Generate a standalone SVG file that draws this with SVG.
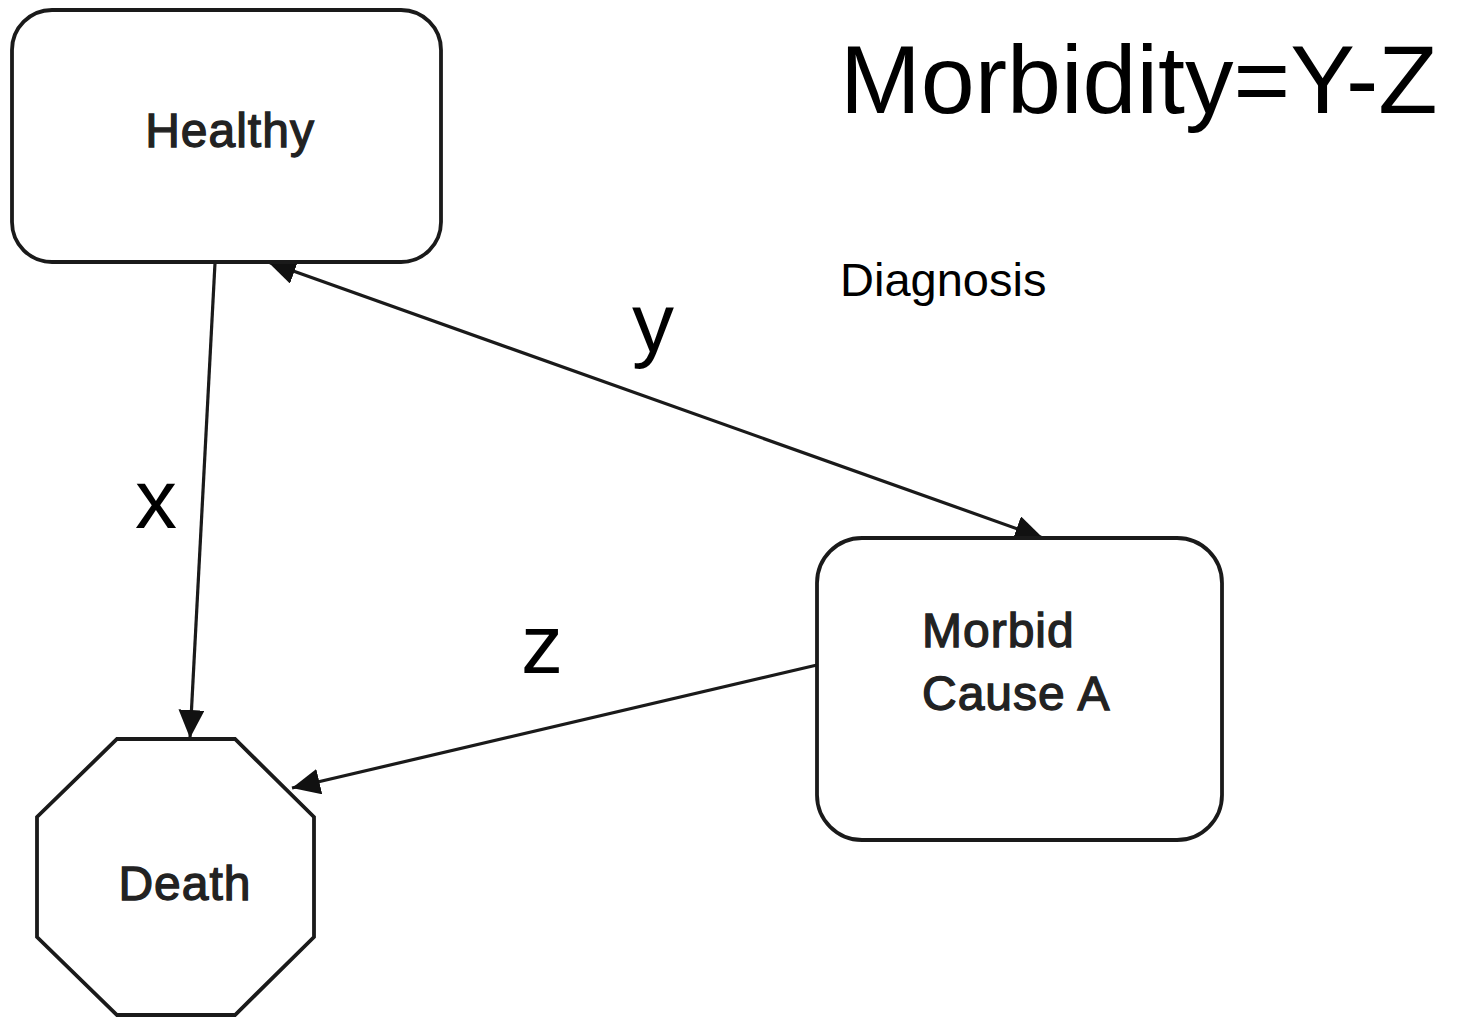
<svg xmlns="http://www.w3.org/2000/svg" width="1457" height="1019" viewBox="0 0 1457 1019">
<style>
.node{fill:#fff;stroke:#1a1a1a;stroke-width:3.8}
.ntext{font-family:"Liberation Sans",Arial,sans-serif;font-size:48px;font-weight:normal;fill:#222;stroke:#222;stroke-width:1.3;letter-spacing:1px}
.conn{stroke:#1a1a1a;stroke-width:3.2;fill:none}
.lbl{font-family:"Liberation Sans",Arial,sans-serif;fill:#000}
</style>
<defs>
<marker id="ah" markerUnits="userSpaceOnUse" markerWidth="30" markerHeight="28" refX="28" refY="13" orient="auto-start-reverse" viewBox="0 0 30 28">
<path d="M0,0 L28,13 L0,26 z" fill="#111"/>
</marker>
</defs>
<rect width="1457" height="1019" fill="#fff"/>
<g id="connectors">
<line class="conn" x1="215" y1="263" x2="190" y2="738" marker-end="url(#ah)"/>
<line class="conn" x1="268" y1="262" x2="1043" y2="538" marker-start="url(#ah)" marker-end="url(#ah)"/>
<line class="conn" x1="817" y1="665" x2="292" y2="788" marker-end="url(#ah)"/>
</g>
<g id="healthy">
<rect class="node" x="12" y="10" width="429" height="252" rx="40" ry="40"/>
<text class="ntext" x="230" y="147" text-anchor="middle">Healthy</text>
</g>
<g id="death">
<polygon class="node" points="117,739 235,739 314,817 314,937 235,1015 117,1015 37,937 37,817"/>
<text class="ntext" x="185" y="900" text-anchor="middle">Death</text>
</g>
<g id="morbid">
<rect class="node" x="817" y="538" width="405" height="302" rx="45" ry="45"/>
<text class="ntext" x="922" y="647">Morbid</text>
<text class="ntext" x="922" y="710">Cause A</text>
</g>
<g id="labels">
<text class="lbl" x="135" y="528" font-size="84">x</text>
<text class="lbl" x="632" y="352" font-size="84">y</text>
<text class="lbl" x="521" y="673" font-size="84">z</text>
<text class="lbl" x="840" y="113" font-size="97">Morbidity=Y-Z</text>
<text class="lbl" x="840" y="296" font-size="47">Diagnosis</text>
</g>
</svg>
